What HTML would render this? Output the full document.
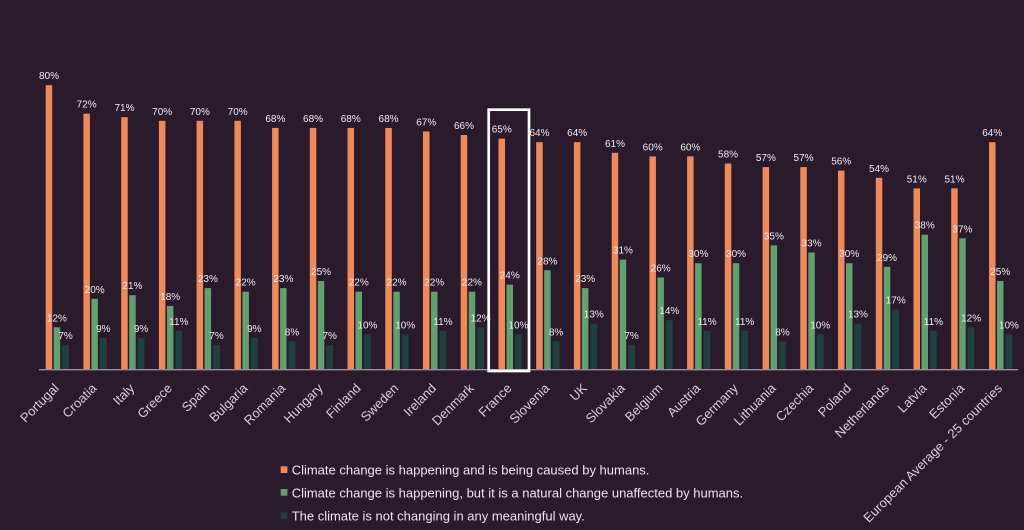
<!DOCTYPE html>
<html><head><meta charset="utf-8"><style>
html,body{margin:0;padding:0;background:#291a2c;}
svg{display:block;}
.o{fill:#f0895a}.g{fill:#62a070}.d{fill:#1f403e}
.v{font-family:"Liberation Sans",sans-serif;font-size:10px;fill:#f2eaf2;text-anchor:middle}
.x{font-family:"Liberation Sans",sans-serif;font-size:13px;fill:#d8cede;text-anchor:end}
.l{font-family:"Liberation Sans",sans-serif;font-size:13px;fill:#ece4ee}
</style></head><body>
<svg width="1024" height="530" viewBox="0 0 1024 530" xmlns="http://www.w3.org/2000/svg">
<rect width="1024" height="530" fill="#291a2c"/>

<g transform="translate(45.7,0)"><rect class="o" x="0" y="85.2" width="6.5" height="284.8"/><rect class="g" x="8" y="327.3" width="6.5" height="42.7"/><rect class="d" x="16.5" y="345.1" width="6.8" height="24.9"/><text class="v" x="3.25" y="79.2">80%</text><text class="v" x="11.25" y="321.3">12%</text><text class="v" x="19.9" y="339.1">7%</text></g>
<g transform="translate(83.4,0)"><rect class="o" x="0" y="113.7" width="6.5" height="256.3"/><rect class="g" x="8" y="298.8" width="6.5" height="71.2"/><rect class="d" x="16.5" y="338" width="6.8" height="32"/><text class="v" x="3.25" y="107.7">72%</text><text class="v" x="11.25" y="292.8">20%</text><text class="v" x="19.9" y="332">9%</text></g>
<g transform="translate(121.2,0)"><rect class="o" x="0" y="117.2" width="6.5" height="252.8"/><rect class="g" x="8" y="295.2" width="6.5" height="74.8"/><rect class="d" x="16.5" y="338" width="6.8" height="32"/><text class="v" x="3.25" y="111.2">71%</text><text class="v" x="11.25" y="289.2">21%</text><text class="v" x="19.9" y="332">9%</text></g>
<g transform="translate(158.9,0)"><rect class="o" x="0" y="120.8" width="6.5" height="249.2"/><rect class="g" x="8" y="305.9" width="6.5" height="64.1"/><rect class="d" x="16.5" y="330.8" width="6.8" height="39.2"/><text class="v" x="3.25" y="114.8">70%</text><text class="v" x="11.25" y="299.9">18%</text><text class="v" x="19.9" y="324.8">11%</text></g>
<g transform="translate(196.6,0)"><rect class="o" x="0" y="120.8" width="6.5" height="249.2"/><rect class="g" x="8" y="288.1" width="6.5" height="81.9"/><rect class="d" x="16.5" y="345.1" width="6.8" height="24.9"/><text class="v" x="3.25" y="114.8">70%</text><text class="v" x="11.25" y="282.1">23%</text><text class="v" x="19.9" y="339.1">7%</text></g>
<g transform="translate(234.4,0)"><rect class="o" x="0" y="120.8" width="6.5" height="249.2"/><rect class="g" x="8" y="291.7" width="6.5" height="78.3"/><rect class="d" x="16.5" y="338" width="6.8" height="32"/><text class="v" x="3.25" y="114.8">70%</text><text class="v" x="11.25" y="285.7">22%</text><text class="v" x="19.9" y="332">9%</text></g>
<g transform="translate(272.1,0)"><rect class="o" x="0" y="127.9" width="6.5" height="242.1"/><rect class="g" x="8" y="288.1" width="6.5" height="81.9"/><rect class="d" x="16.5" y="341.5" width="6.8" height="28.5"/><text class="v" x="3.25" y="121.9">68%</text><text class="v" x="11.25" y="282.1">23%</text><text class="v" x="19.9" y="335.5">8%</text></g>
<g transform="translate(309.8,0)"><rect class="o" x="0" y="127.9" width="6.5" height="242.1"/><rect class="g" x="8" y="281" width="6.5" height="89"/><rect class="d" x="16.5" y="345.1" width="6.8" height="24.9"/><text class="v" x="3.25" y="121.9">68%</text><text class="v" x="11.25" y="275">25%</text><text class="v" x="19.9" y="339.1">7%</text></g>
<g transform="translate(347.5,0)"><rect class="o" x="0" y="127.9" width="6.5" height="242.1"/><rect class="g" x="8" y="291.7" width="6.5" height="78.3"/><rect class="d" x="16.5" y="334.4" width="6.8" height="35.6"/><text class="v" x="3.25" y="121.9">68%</text><text class="v" x="11.25" y="285.7">22%</text><text class="v" x="19.9" y="328.4">10%</text></g>
<g transform="translate(385.3,0)"><rect class="o" x="0" y="127.9" width="6.5" height="242.1"/><rect class="g" x="8" y="291.7" width="6.5" height="78.3"/><rect class="d" x="16.5" y="334.4" width="6.8" height="35.6"/><text class="v" x="3.25" y="121.9">68%</text><text class="v" x="11.25" y="285.7">22%</text><text class="v" x="19.9" y="328.4">10%</text></g>
<g transform="translate(423,0)"><rect class="o" x="0" y="131.5" width="6.5" height="238.5"/><rect class="g" x="8" y="291.7" width="6.5" height="78.3"/><rect class="d" x="16.5" y="330.8" width="6.8" height="39.2"/><text class="v" x="3.25" y="125.5">67%</text><text class="v" x="11.25" y="285.7">22%</text><text class="v" x="19.9" y="324.8">11%</text></g>
<g transform="translate(460.7,0)"><rect class="o" x="0" y="135" width="6.5" height="235"/><rect class="g" x="8" y="291.7" width="6.5" height="78.3"/><rect class="d" x="16.5" y="327.3" width="6.8" height="42.7"/><text class="v" x="3.25" y="129">66%</text><text class="v" x="11.25" y="285.7">22%</text><text class="v" x="19.9" y="321.3">12%</text></g>
<g transform="translate(498.5,0)"><rect class="o" x="0" y="138.6" width="6.5" height="231.4"/><rect class="g" x="8" y="284.6" width="6.5" height="85.4"/><rect class="d" x="16.5" y="334.4" width="6.8" height="35.6"/><text class="v" x="3.25" y="132.6">65%</text><text class="v" x="11.25" y="278.6">24%</text><text class="v" x="19.9" y="328.4">10%</text></g>
<g transform="translate(536.2,0)"><rect class="o" x="0" y="142.2" width="6.5" height="227.8"/><rect class="g" x="8" y="270.3" width="6.5" height="99.7"/><rect class="d" x="16.5" y="341.5" width="6.8" height="28.5"/><text class="v" x="3.25" y="136.2">64%</text><text class="v" x="11.25" y="264.3">28%</text><text class="v" x="19.9" y="335.5">8%</text></g>
<g transform="translate(573.9,0)"><rect class="o" x="0" y="142.2" width="6.5" height="227.8"/><rect class="g" x="8" y="288.1" width="6.5" height="81.9"/><rect class="d" x="16.5" y="323.7" width="6.8" height="46.3"/><text class="v" x="3.25" y="136.2">64%</text><text class="v" x="11.25" y="282.1">23%</text><text class="v" x="19.9" y="317.7">13%</text></g>
<g transform="translate(611.7,0)"><rect class="o" x="0" y="152.8" width="6.5" height="217.2"/><rect class="g" x="8" y="259.6" width="6.5" height="110.4"/><rect class="d" x="16.5" y="345.1" width="6.8" height="24.9"/><text class="v" x="3.25" y="146.8">61%</text><text class="v" x="11.25" y="253.6">31%</text><text class="v" x="19.9" y="339.1">7%</text></g>
<g transform="translate(649.4,0)"><rect class="o" x="0" y="156.4" width="6.5" height="213.6"/><rect class="g" x="8" y="277.4" width="6.5" height="92.6"/><rect class="d" x="16.5" y="320.2" width="6.8" height="49.8"/><text class="v" x="3.25" y="150.4">60%</text><text class="v" x="11.25" y="271.4">26%</text><text class="v" x="19.9" y="314.2">14%</text></g>
<g transform="translate(687.1,0)"><rect class="o" x="0" y="156.4" width="6.5" height="213.6"/><rect class="g" x="8" y="263.2" width="6.5" height="106.8"/><rect class="d" x="16.5" y="330.8" width="6.8" height="39.2"/><text class="v" x="3.25" y="150.4">60%</text><text class="v" x="11.25" y="257.2">30%</text><text class="v" x="19.9" y="324.8">11%</text></g>
<g transform="translate(724.8,0)"><rect class="o" x="0" y="163.5" width="6.5" height="206.5"/><rect class="g" x="8" y="263.2" width="6.5" height="106.8"/><rect class="d" x="16.5" y="330.8" width="6.8" height="39.2"/><text class="v" x="3.25" y="157.5">58%</text><text class="v" x="11.25" y="257.2">30%</text><text class="v" x="19.9" y="324.8">11%</text></g>
<g transform="translate(762.6,0)"><rect class="o" x="0" y="167.1" width="6.5" height="202.9"/><rect class="g" x="8" y="245.4" width="6.5" height="124.6"/><rect class="d" x="16.5" y="341.5" width="6.8" height="28.5"/><text class="v" x="3.25" y="161.1">57%</text><text class="v" x="11.25" y="239.4">35%</text><text class="v" x="19.9" y="335.5">8%</text></g>
<g transform="translate(800.3,0)"><rect class="o" x="0" y="167.1" width="6.5" height="202.9"/><rect class="g" x="8" y="252.5" width="6.5" height="117.5"/><rect class="d" x="16.5" y="334.4" width="6.8" height="35.6"/><text class="v" x="3.25" y="161.1">57%</text><text class="v" x="11.25" y="246.5">33%</text><text class="v" x="19.9" y="328.4">10%</text></g>
<g transform="translate(838,0)"><rect class="o" x="0" y="170.6" width="6.5" height="199.4"/><rect class="g" x="8" y="263.2" width="6.5" height="106.8"/><rect class="d" x="16.5" y="323.7" width="6.8" height="46.3"/><text class="v" x="3.25" y="164.6">56%</text><text class="v" x="11.25" y="257.2">30%</text><text class="v" x="19.9" y="317.7">13%</text></g>
<g transform="translate(875.8,0)"><rect class="o" x="0" y="177.8" width="6.5" height="192.2"/><rect class="g" x="8" y="266.8" width="6.5" height="103.2"/><rect class="d" x="16.5" y="309.5" width="6.8" height="60.5"/><text class="v" x="3.25" y="171.8">54%</text><text class="v" x="11.25" y="260.8">29%</text><text class="v" x="19.9" y="303.5">17%</text></g>
<g transform="translate(913.5,0)"><rect class="o" x="0" y="188.4" width="6.5" height="181.6"/><rect class="g" x="8" y="234.7" width="6.5" height="135.3"/><rect class="d" x="16.5" y="330.8" width="6.8" height="39.2"/><text class="v" x="3.25" y="182.4">51%</text><text class="v" x="11.25" y="228.7">38%</text><text class="v" x="19.9" y="324.8">11%</text></g>
<g transform="translate(951.2,0)"><rect class="o" x="0" y="188.4" width="6.5" height="181.6"/><rect class="g" x="8" y="238.3" width="6.5" height="131.7"/><rect class="d" x="16.5" y="327.3" width="6.8" height="42.7"/><text class="v" x="3.25" y="182.4">51%</text><text class="v" x="11.25" y="232.3">37%</text><text class="v" x="19.9" y="321.3">12%</text></g>
<g transform="translate(989,0)"><rect class="o" x="0" y="142.2" width="6.5" height="227.8"/><rect class="g" x="8" y="281" width="6.5" height="89"/><rect class="d" x="16.5" y="334.4" width="6.8" height="35.6"/><text class="v" x="3.25" y="136.2">64%</text><text class="v" x="11.25" y="275">25%</text><text class="v" x="19.9" y="328.4">10%</text></g>

<line x1="39" y1="369.7" x2="1018" y2="369.7" stroke="#9a8e9e" stroke-width="1.3"/>

<rect x="488.7" y="109.7" width="40.3" height="261.3" fill="none" stroke="#ffffff" stroke-width="2.7"/>

<text class="x" transform="translate(59.7,389) rotate(-45)">Portugal</text>
<text class="x" transform="translate(97.4,389) rotate(-45)">Croatia</text>
<text class="x" transform="translate(135.2,389) rotate(-45)">Italy</text>
<text class="x" transform="translate(172.9,389) rotate(-45)">Greece</text>
<text class="x" transform="translate(210.6,389) rotate(-45)">Spain</text>
<text class="x" transform="translate(248.4,389) rotate(-45)">Bulgaria</text>
<text class="x" transform="translate(286.1,389) rotate(-45)">Romania</text>
<text class="x" transform="translate(323.8,389) rotate(-45)">Hungary</text>
<text class="x" transform="translate(361.5,389) rotate(-45)">Finland</text>
<text class="x" transform="translate(399.3,389) rotate(-45)">Sweden</text>
<text class="x" transform="translate(437,389) rotate(-45)">Ireland</text>
<text class="x" transform="translate(474.7,389) rotate(-45)">Denmark</text>
<text class="x" transform="translate(512.5,389) rotate(-45)">France</text>
<text class="x" transform="translate(550.2,389) rotate(-45)">Slovenia</text>
<text class="x" transform="translate(587.9,389) rotate(-45)">UK</text>
<text class="x" transform="translate(625.7,389) rotate(-45)">Slovakia</text>
<text class="x" transform="translate(663.4,389) rotate(-45)">Belgium</text>
<text class="x" transform="translate(701.1,389) rotate(-45)">Austria</text>
<text class="x" transform="translate(738.8,389) rotate(-45)">Germany</text>
<text class="x" transform="translate(776.6,389) rotate(-45)">Lithuania</text>
<text class="x" transform="translate(814.3,389) rotate(-45)">Czechia</text>
<text class="x" transform="translate(852,389) rotate(-45)">Poland</text>
<text class="x" transform="translate(889.8,389) rotate(-45)">Netherlands</text>
<text class="x" transform="translate(927.5,389) rotate(-45)">Latvia</text>
<text class="x" transform="translate(965.2,389) rotate(-45)">Estonia</text>
<text class="x" transform="translate(1003,389) rotate(-45)">European Average - 25 countries</text>

<rect x="280.7" y="466.3" width="6.7" height="6.7" fill="#f0895a"/>
<text class="l" x="291.7" y="474.7">Climate change is happening and is being caused by humans.</text>
<rect x="280.7" y="489" width="6.7" height="6.7" fill="#62a070"/>
<text class="l" x="291.7" y="497.5">Climate change is happening, but it is a natural change unaffected by humans.</text>
<rect x="280.7" y="512.3" width="6.7" height="6.7" fill="#1f403e"/>
<text class="l" x="291.7" y="520.7">The climate is not changing in any meaningful way.</text>
</svg>
</body></html>
